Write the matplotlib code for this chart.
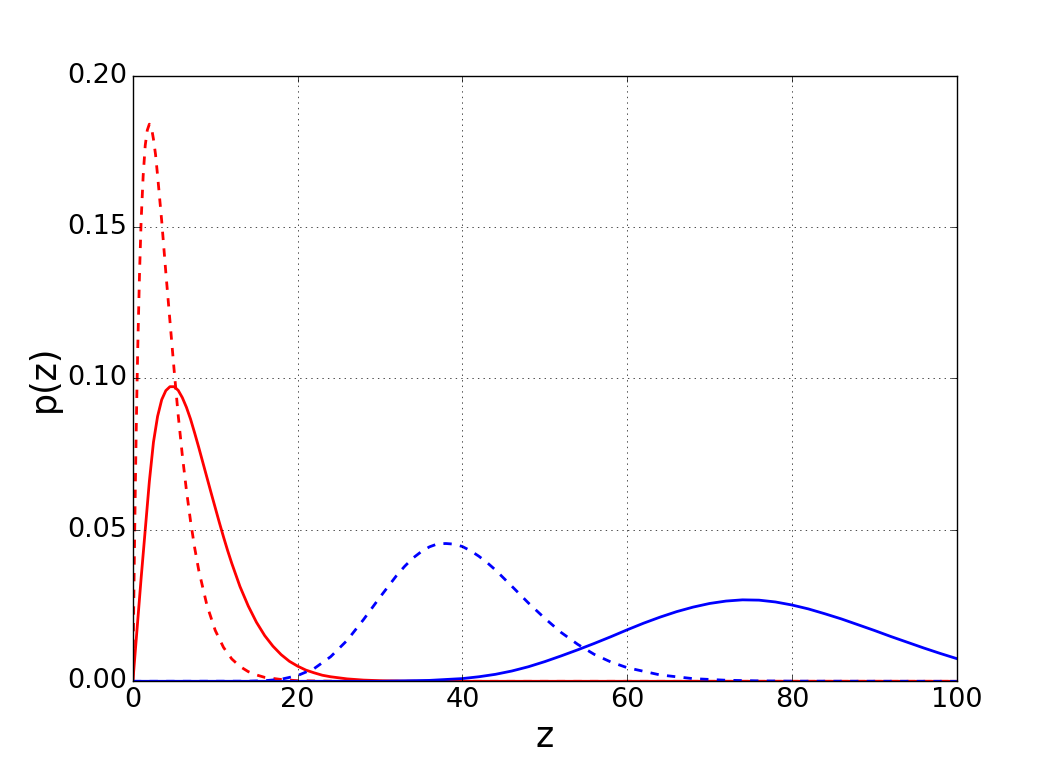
import matplotlib
matplotlib.use("Agg")
import matplotlib.pyplot as plt

# values
z_red_dash = [0, 0.05, 0.1, 0.2, 0.3, 0.4, 0.5, 0.6, 0.8, 1.0, 1.25, 1.5, 1.75, 2.0,
              2.25, 2.5, 2.75, 3.0, 3.5, 4.0, 4.5, 5.0, 5.5, 6.0, 6.5, 7.0, 7.5, 8.0,
              9.0, 10, 11, 12, 13, 14, 15, 16, 18, 20, 25, 100]
p_red_dash = [0, 0.0122, 0.0238, 0.0452, 0.0646, 0.0819, 0.0973, 0.111, 0.134, 0.152,
              0.167, 0.177, 0.182, 0.184, 0.183, 0.179, 0.174, 0.167, 0.152, 0.135,
              0.119, 0.103, 0.0879, 0.0747, 0.0631, 0.0529, 0.0441, 0.0366, 0.025,
              0.0168, 0.0112, 0.0074, 0.0049, 0.0032, 0.0021, 0.0013, 0.0006, 0.0002,
              0, 0]

z_red_solid = [0, 0.5, 1.0, 1.5, 2.0, 2.5, 3.0, 3.5, 4.0, 4.5, 5.0, 5.5, 6.0, 6.5,
               7.0, 7.5, 8.0, 8.5, 9.0, 9.5, 10, 10.5, 11, 11.5, 12, 13, 14, 15, 16,
               17, 18, 19, 20, 21, 22, 23, 24, 26, 28, 30, 33, 36, 100]
p_red_solid = [0, 0.017, 0.034, 0.050, 0.066, 0.079, 0.0875, 0.093, 0.096, 0.0973,
               0.0973, 0.0961, 0.0937, 0.0905, 0.0866, 0.0820, 0.0772, 0.0722,
               0.0672, 0.0622, 0.0573, 0.0524, 0.0477, 0.0432, 0.0390, 0.0313,
               0.0249, 0.0195, 0.0151, 0.0116, 0.0088, 0.0066, 0.0050, 0.0037,
               0.0028, 0.0020, 0.0015, 0.0008, 0.0004, 0.0002, 0.00005, 0, 0]

z_blue_dash = [0, 14, 16, 18, 20, 22, 24, 26, 28, 30, 32, 33, 34, 35, 36, 37, 38, 39,
               40, 41, 42, 43, 44, 46, 48, 50, 52, 54, 56, 58, 60, 64, 68, 72, 76,
               80, 100]
p_blue_dash = [0, 0.00004, 0.0002, 0.00068, 0.0019, 0.0042, 0.0081, 0.0135, 0.0204,
               0.0278, 0.0349, 0.0380, 0.0407, 0.0428, 0.0444, 0.0454, 0.0455,
               0.0453, 0.0445, 0.0431, 0.0413, 0.0392, 0.0368, 0.0314, 0.0259,
               0.0208, 0.0161, 0.0122, 0.0089, 0.0064, 0.0045, 0.0021, 0.00088,
               0.00035, 0.00014, 0.00005, 0]

z_blue_solid = [0, 30, 32, 34, 36, 38, 40, 42, 44, 46, 48, 50, 52, 54, 56, 58, 60,
                62, 64, 66, 68, 70, 72, 74, 76, 78, 80, 82, 84, 86, 88, 90, 92, 94,
                96, 98, 100]
p_blue_solid = [0, 0, 0.0001, 0.0002, 0.0003, 0.0006, 0.0009, 0.0015, 0.0023,
                0.0034, 0.0048, 0.0065, 0.0084, 0.0104, 0.0125, 0.0147, 0.0170,
                0.0192, 0.0212, 0.0230, 0.0245, 0.0257, 0.0265, 0.0269, 0.0268,
                0.0262, 0.0252, 0.0239, 0.0223, 0.0206, 0.0187, 0.0168, 0.0148,
                0.0129, 0.0110, 0.0092, 0.0075]

plt.style.use("classic")

fig = plt.figure(figsize=(10.63, 7.57), dpi=100, facecolor="white")
ax = fig.add_subplot(111)
fig.subplots_adjust(left=0.125, right=0.9, bottom=0.1, top=0.9)

ax.plot(z_red_dash, p_red_dash, "r--", lw=2)
ax.plot(z_red_solid, p_red_solid, "r-", lw=2)
ax.plot(z_blue_dash, p_blue_dash, "b--", lw=2)
ax.plot(z_blue_solid, p_blue_solid, "b-", lw=2)

ax.set_xlim(0, 100)
ax.set_ylim(0, 0.2)
ax.set_xticks([0, 20, 40, 60, 80, 100])
ax.set_yticks([0, 0.05, 0.10, 0.15, 0.20])
ax.set_yticklabels(["0.00", "0.05", "0.10", "0.15", "0.20"])
ax.tick_params(labelsize=19.5)
ax.grid(True)

ax.set_xlabel("z", fontsize=25)
ax.set_ylabel("p(z)", fontsize=25)

fig.savefig("out.png", dpi=100, facecolor="white")
